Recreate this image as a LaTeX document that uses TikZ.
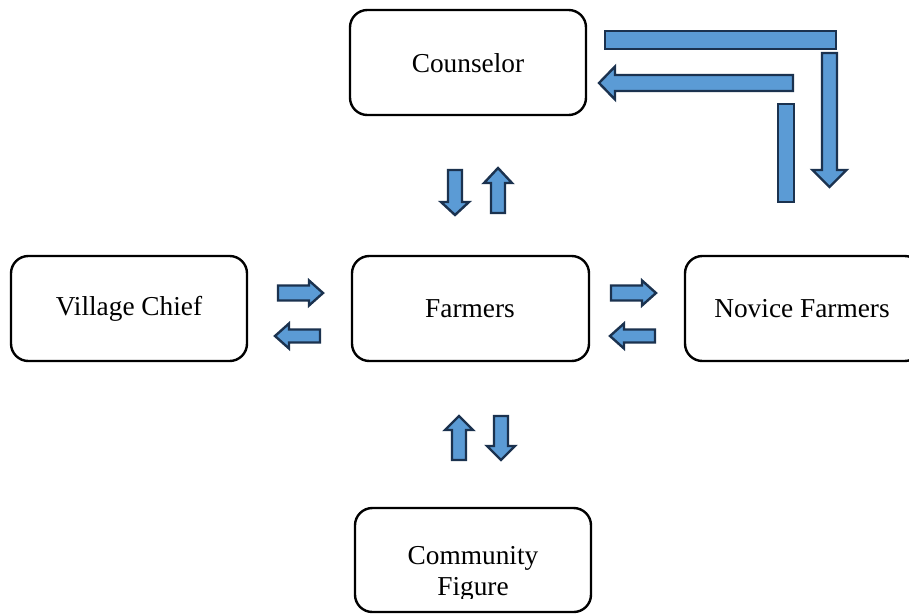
\documentclass[tikz,border=0pt]{standalone}
\usepackage{fontspec}
\setmainfont{Liberation Serif}
\definecolor{afill}{HTML}{5B9BD5}
\definecolor{aline}{HTML}{1B324F}
\newcommand\harr[6]{% tail, base, tip, centre y, shaft half, head half
  \draw[barrow] (#1,#4-#5) -- (#2,#4-#5) -- (#2,#4-#6) -- (#3,#4) -- (#2,#4+#6) -- (#2,#4+#5) -- (#1,#4+#5) -- cycle;}
\newcommand\varr[6]{% tail, base, tip, centre x, shaft half, head half
  \draw[barrow] (#4-#5,#1) -- (#4-#5,#2) -- (#4-#6,#2) -- (#4,#3) -- (#4+#6,#2) -- (#4+#5,#2) -- (#4+#5,#1) -- cycle;}
\begin{document}
\begin{tikzpicture}[x=0.75pt,y=-0.75pt,
  ent/.style={draw=black,line width=1.8pt,rounded corners=13pt},
  lbl/.style={font=\fontsize{20.5}{24}\selectfont,inner sep=0pt},
  barrow/.style={fill=afill,draw=aline,line width=1.8pt,line join=miter}]
\clip (0,0) rectangle (909,615);
\fill[white] (0,0) rectangle (909,615);
% boxes
\draw[ent] (350,10) rectangle (586,115);
\node[lbl] (counselor) at (468,63) {Counselor};
\draw[ent] (11,256) rectangle (247,361);
\node[lbl] (chief) at (129,309) {Village Chief};
\draw[ent] (352,256) rectangle (589,361);
\node[lbl] (farmers) at (470,309) {Farmers};
\draw[ent] (685,256) rectangle (922,361);
\node[lbl] (novice) at (802,309) {Novice Farmers};
\draw[ent] (355,508) rectangle (591,612);
\begin{scope}
\clip (355,508) rectangle (591,598);
\node[lbl,anchor=base] (comm) at (473,564) {Community};
\node[lbl,anchor=base] (fig) at (473,595) {Figure};
\end{scope}
% horizontal arrows
\harr{278}{309}{323}{293}{7.5}{12.5}
\harr{320}{289}{275}{336}{6.5}{12.5}
\harr{611}{642}{656}{293}{7.5}{12.5}
\harr{655}{624}{610}{336}{6.5}{12.5}
% vertical arrows
\varr{170}{202}{215}{455}{7}{14}
\varr{213}{183}{168}{498}{7}{14}
\varr{460}{430}{416}{459}{7}{14}
\varr{416}{446}{460}{501}{7}{14}
% top right
\draw[barrow] (605,31) rectangle (836,49);
\varr{53}{170}{187}{829.5}{7.5}{17}
\harr{793}{615}{599}{83}{8}{16.5}
\draw[barrow] (778,104) rectangle (794,202);
\end{tikzpicture}
\end{document}
